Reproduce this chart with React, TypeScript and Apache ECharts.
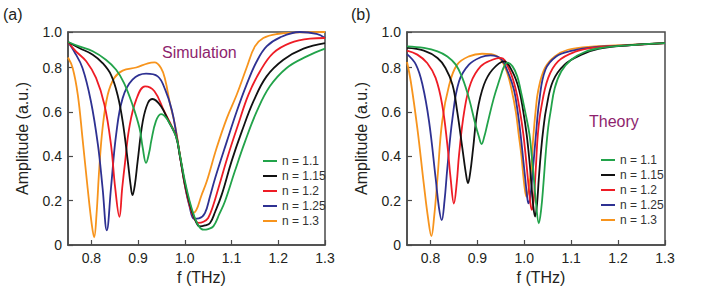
import React, { useEffect, useRef } from "react";
import * as echarts from "echarts";

// Simulation panel (a): [f (THz), amplitude]
const simN110 = [[0.75,0.915],[0.774,0.895],[0.803,0.873],[0.831,0.835],[0.853,0.79],[0.87,0.73],[0.888,0.632],[0.903,0.527],[0.91,0.437],[0.917,0.37],[0.924,0.42],[0.928,0.467],[0.938,0.557],[0.949,0.59],[0.963,0.565],[0.981,0.49],[0.99,0.40],[1.0,0.29],[1.01,0.20],[1.02,0.13],[1.03,0.085],[1.04,0.069],[1.05,0.072],[1.061,0.084],[1.074,0.14],[1.086,0.197],[1.107,0.332],[1.129,0.467],[1.154,0.602],[1.182,0.715],[1.218,0.798],[1.261,0.85],[1.30,0.885]];
const simN115 = [[0.75,0.915],[0.774,0.888],[0.803,0.858],[0.824,0.82],[0.842,0.767],[0.856,0.677],[0.867,0.557],[0.878,0.377],[0.884,0.27],[0.888,0.225],[0.893,0.27],[0.899,0.377],[0.91,0.557],[0.921,0.64],[0.931,0.658],[0.949,0.625],[0.967,0.55],[0.981,0.49],[0.99,0.395],[1.0,0.28],[1.01,0.19],[1.02,0.125],[1.032,0.084],[1.043,0.088],[1.054,0.099],[1.065,0.15],[1.079,0.227],[1.1,0.377],[1.122,0.512],[1.147,0.648],[1.175,0.76],[1.211,0.835],[1.254,0.885],[1.30,0.91]];
const simN120 = [[0.75,0.915],[0.767,0.873],[0.789,0.828],[0.81,0.753],[0.828,0.632],[0.842,0.452],[0.851,0.257],[0.86,0.127],[0.866,0.257],[0.872,0.37],[0.881,0.527],[0.896,0.655],[0.915,0.715],[0.935,0.693],[0.956,0.602],[0.974,0.527],[0.982,0.49],[0.99,0.395],[1.0,0.275],[1.01,0.18],[1.02,0.12],[1.029,0.10],[1.04,0.105],[1.05,0.122],[1.061,0.18],[1.072,0.257],[1.093,0.407],[1.114,0.542],[1.136,0.677],[1.161,0.783],[1.189,0.865],[1.225,0.91],[1.268,0.93],[1.30,0.933]];
const simN125 = [[0.75,0.915],[0.763,0.873],[0.781,0.798],[0.799,0.648],[0.814,0.452],[0.824,0.257],[0.833,0.066],[0.842,0.257],[0.853,0.497],[0.867,0.662],[0.888,0.745],[0.917,0.772],[0.942,0.76],[0.958,0.70],[0.972,0.61],[0.982,0.50],[0.99,0.395],[1.0,0.27],[1.01,0.175],[1.02,0.118],[1.03,0.12],[1.043,0.144],[1.054,0.22],[1.065,0.302],[1.09,0.467],[1.111,0.602],[1.132,0.722],[1.154,0.828],[1.175,0.895],[1.204,0.936],[1.246,0.96],[1.282,0.951],[1.30,0.933]];
const simN130 = [[0.75,0.845],[0.76,0.798],[0.771,0.677],[0.781,0.482],[0.792,0.257],[0.801,0.091],[0.806,0.035],[0.811,0.137],[0.817,0.347],[0.824,0.527],[0.835,0.677],[0.849,0.753],[0.867,0.786],[0.896,0.80],[0.921,0.819],[0.935,0.823],[0.949,0.798],[0.958,0.745],[0.968,0.64],[0.979,0.54],[0.99,0.40],[1.0,0.27],[1.01,0.185],[1.018,0.145],[1.025,0.159],[1.035,0.22],[1.047,0.287],[1.068,0.437],[1.09,0.572],[1.111,0.677],[1.132,0.798],[1.15,0.895],[1.168,0.933],[1.197,0.951],[1.246,0.958],[1.30,0.96]];

// Theory panel (b)
const thN110 = [[0.75,0.895],[0.786,0.888],[0.815,0.873],[0.836,0.85],[0.854,0.813],[0.868,0.753],[0.882,0.662],[0.896,0.542],[0.903,0.49],[0.909,0.455],[0.915,0.49],[0.921,0.542],[0.935,0.662],[0.948,0.75],[0.956,0.80],[0.964,0.822],[0.975,0.805],[0.985,0.76],[0.992,0.70],[1.002,0.60],[1.011,0.50],[1.016,0.40],[1.02,0.31],[1.025,0.19],[1.031,0.098],[1.036,0.16],[1.041,0.28],[1.046,0.42],[1.051,0.53],[1.056,0.6],[1.065,0.708],[1.079,0.783],[1.10,0.835],[1.129,0.87],[1.164,0.888],[1.221,0.90],[1.30,0.91]];
const thN115 = [[0.75,0.888],[0.786,0.876],[0.815,0.843],[0.832,0.798],[0.847,0.722],[0.857,0.602],[0.868,0.437],[0.875,0.33],[0.88,0.279],[0.885,0.33],[0.891,0.437],[0.90,0.602],[0.914,0.722],[0.932,0.79],[0.957,0.828],[0.975,0.78],[0.989,0.70],[0.998,0.60],[1.005,0.50],[1.011,0.38],[1.015,0.28],[1.019,0.18],[1.023,0.128],[1.027,0.18],[1.031,0.30],[1.036,0.43],[1.041,0.53],[1.047,0.617],[1.061,0.738],[1.086,0.813],[1.122,0.858],[1.16,0.885],[1.22,0.90],[1.30,0.91]];
const thN120 = [[0.75,0.876],[0.772,0.858],[0.793,0.82],[0.811,0.753],[0.825,0.632],[0.836,0.452],[0.843,0.30],[0.85,0.187],[0.856,0.28],[0.861,0.407],[0.872,0.602],[0.886,0.73],[0.907,0.805],[0.932,0.835],[0.95,0.843],[0.968,0.79],[0.982,0.70],[0.991,0.60],[0.998,0.50],[1.004,0.38],[1.009,0.27],[1.013,0.19],[1.016,0.158],[1.02,0.2],[1.025,0.36],[1.029,0.50],[1.036,0.617],[1.051,0.753],[1.072,0.828],[1.107,0.87],[1.15,0.89],[1.22,0.90],[1.30,0.91]];
const thN125 = [[0.75,0.86],[0.769,0.813],[0.783,0.722],[0.797,0.557],[0.811,0.302],[0.818,0.17],[0.824,0.112],[0.83,0.2],[0.836,0.347],[0.847,0.572],[0.861,0.738],[0.882,0.813],[0.907,0.846],[0.928,0.855],[0.95,0.84],[0.965,0.78],[0.978,0.70],[0.986,0.60],[0.992,0.50],[0.998,0.38],[1.002,0.30],[1.006,0.22],[1.009,0.188],[1.013,0.22],[1.018,0.33],[1.025,0.50],[1.032,0.65],[1.045,0.79],[1.068,0.85],[1.1,0.875],[1.15,0.892],[1.22,0.90],[1.30,0.91]];
const thN130 = [[0.75,0.825],[0.758,0.738],[0.772,0.527],[0.786,0.272],[0.795,0.12],[0.802,0.04],[0.808,0.13],[0.815,0.302],[0.825,0.557],[0.84,0.722],[0.857,0.813],[0.882,0.85],[0.91,0.862],[0.93,0.86],[0.95,0.835],[0.963,0.78],[0.973,0.70],[0.982,0.60],[0.988,0.50],[0.994,0.40],[0.998,0.31],[1.002,0.24],[1.005,0.218],[1.009,0.25],[1.014,0.33],[1.019,0.48],[1.024,0.60],[1.03,0.70],[1.044,0.798],[1.065,0.85],[1.093,0.88],[1.15,0.895],[1.22,0.902],[1.30,0.91]];

const seriesNames = ["n = 1.1", "n = 1.15", "n = 1.2", "n = 1.25", "n = 1.3"];
const seriesColors = ["#22A34A", "#111111", "#EE1C25", "#2E3192", "#F7941D"];
const simData = [simN110, simN115, simN120, simN125, simN130];
const theoryData = [thN110, thN115, thN120, thN125, thN130];
const xTicks = [0.8, 0.9, 1.0, 1.1, 1.2, 1.3];
const yTicks = [0, 0.2, 0.4, 0.6, 0.8, 0.96];

const FONT = "Liberation Sans, Arial, Helvetica, sans-serif";
const AXIS_COLOR = "#4a4a4a";
const TEXT_COLOR = "#231F20";
const PURPLE = "#8E1F6E";

export default function App() {
  const ref = useRef<HTMLDivElement>(null);
  useEffect(() => {
    if (!ref.current) return;
    const chart = echarts.init(ref.current, null, { renderer: "svg" });
    const xAxisBase = (gridIndex: number) => ({
      type: "value",
      gridIndex,
      min: 0.75,
      max: 1.3,
      name: "f (THz)",
      nameLocation: "middle",
      nameGap: 24,
      nameTextStyle: { fontSize: 16, fontFamily: FONT, color: TEXT_COLOR, padding: [0, 0, 0, 10] },
      axisLine: { show: true, lineStyle: { color: AXIS_COLOR, width: 1.5 } },
      axisTick: { show: true, inside: true, length: 5, customValues: xTicks, lineStyle: { color: AXIS_COLOR, width: 1.2 } },
      axisLabel: { customValues: xTicks, margin: 6, fontSize: 14, fontFamily: FONT, color: TEXT_COLOR, formatter: (v: number) => v.toFixed(1) },
      splitLine: { show: false },
    });
    const yAxisBase = (gridIndex: number) => ({
      type: "value",
      gridIndex,
      min: 0,
      max: 0.96,
      name: "Amplitude (a.u.)",
      nameLocation: "middle",
      nameGap: 38,
      nameTextStyle: { fontSize: 16, fontFamily: FONT, color: TEXT_COLOR },
      axisLine: { show: true, lineStyle: { color: AXIS_COLOR, width: 1.5 } },
      axisTick: { show: true, inside: true, length: 5, customValues: yTicks, lineStyle: { color: AXIS_COLOR, width: 1.2 } },
      axisLabel: {
        customValues: yTicks, margin: 6, fontSize: 14, fontFamily: FONT, color: TEXT_COLOR,
        formatter: (v: number) => (v > 0.9 ? "1.0" : v === 0 ? "0" : v.toFixed(1)),
      },
      splitLine: { show: false },
    });
    const makeSeries = (data: number[][][], idx: number) =>
      data.map((d, i) => ({
        type: "line",
        name: seriesNames[i],
        xAxisIndex: idx,
        yAxisIndex: idx,
        data: d,
        showSymbol: false,
        symbol: "none",
        smooth: 0.4,
        lineStyle: { color: seriesColors[i], width: 1.8 },
        itemStyle: { color: seriesColors[i] },
        z: 10 - i,
      }));
    const legendBase = (left: number, top: number) => ({
      orient: "vertical",
      left,
      top,
      itemWidth: 14,
      itemHeight: 2,
      itemGap: 3,
      icon: "rect",
      data: seriesNames,
      textStyle: { fontSize: 12, fontFamily: FONT, color: "#333" },
    });
    chart.setOption({
      animation: false,
      backgroundColor: "#ffffff",
      grid: [
        { left: 68, top: 32, width: 257, height: 213, show: true, borderColor: AXIS_COLOR, borderWidth: 1.5 },
        { left: 407, top: 32, width: 258, height: 213, show: true, borderColor: AXIS_COLOR, borderWidth: 1.5 },
      ],
      xAxis: [xAxisBase(0), xAxisBase(1)],
      yAxis: [yAxisBase(0), yAxisBase(1)],
      legend: [legendBase(258, 150), legendBase(596, 149)],
      series: [...makeSeries(simData, 0), ...makeSeries(theoryData, 1)],
      graphic: [
        { type: "text", left: 3, top: 6, style: { text: "(a)", fontSize: 16, fontFamily: FONT, fill: TEXT_COLOR } },
        { type: "text", left: 351, top: 6, style: { text: "(b)", fontSize: 16, fontFamily: FONT, fill: TEXT_COLOR } },
        { type: "text", left: 162, top: 44, style: { text: "Simulation", fontSize: 16, fontFamily: FONT, fill: PURPLE } },
        { type: "text", left: 589, top: 113, style: { text: "Theory", fontSize: 16, fontFamily: FONT, fill: PURPLE } },
      ],
    });
    return () => chart.dispose();
  }, []);
  return <div ref={ref} style={{ position: "fixed", left: 0, top: 0, width: 708, height: 295 }} />;
}
